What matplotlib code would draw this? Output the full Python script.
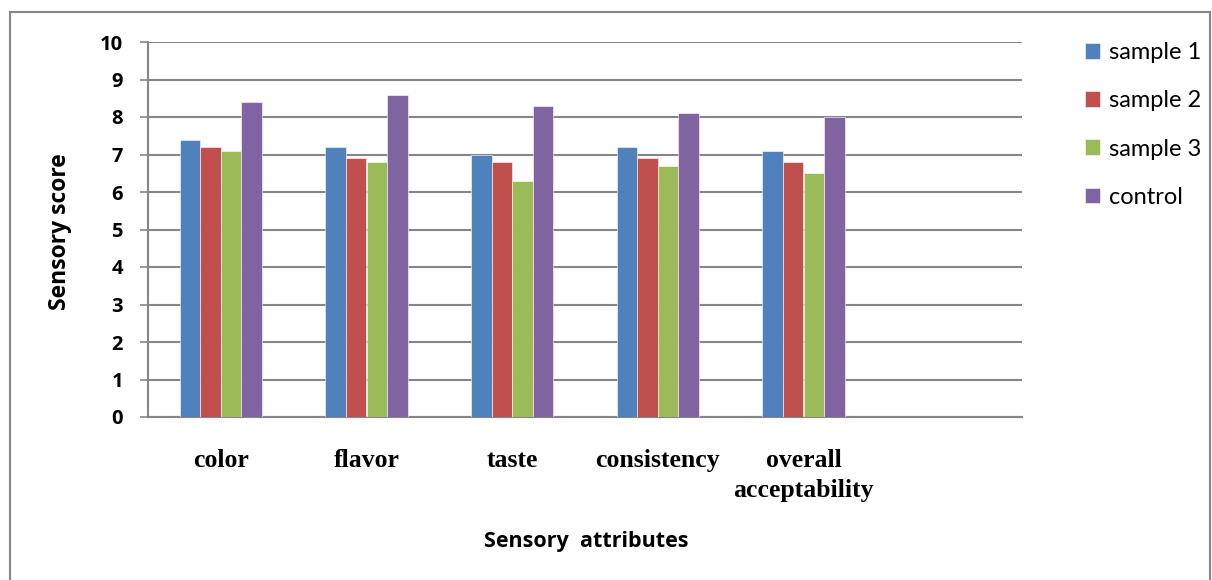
import numpy as np
import matplotlib.pyplot as plt
from matplotlib.patches import Rectangle

# sensory scores per attribute
categories = ['color', 'flavor', 'taste', 'consistency', 'overall\nacceptability']
sample1 = [7.4, 7.2, 7.0, 7.2, 7.1]
sample2 = [7.2, 6.9, 6.8, 6.9, 6.8]
sample3 = [7.1, 6.8, 6.3, 6.7, 6.5]
control = [8.4, 8.6, 8.3, 8.1, 8.0]
series_names = ['sample 1', 'sample 2', 'sample 3', 'control']
colors = ['#4F81BD', '#C0504D', '#9BBB59', '#8064A2']

W, H = 1212, 580
fig = plt.figure(figsize=(W / 100, H / 100), dpi=100)
ax = fig.add_axes([148 / W, 1 - 417 / H, (1022 - 148) / W, (417 - 42) / H])

# outer chart frame
fig.patches.append(Rectangle((10 / W, -0.01), 1200 / W, 1 - 12 / H + 0.01,
                             transform=fig.transFigure, fill=False,
                             edgecolor='#868686', linewidth=1.5))

n_slots = 6  # last category slot is left empty
x = np.arange(len(categories))
bw = 0.1417
for i, (vals, name) in enumerate(zip([sample1, sample2, sample3, control], series_names)):
    ax.bar(x + (i - 1.5) * bw, vals, bw, color=colors[i], label=name,
           edgecolor='white', linewidth=0.4, zorder=3)

ax.set_xlim(-0.5, n_slots - 0.5)
ax.set_ylim(0, 10)
ax.set_yticks(range(0, 11))
ax.yaxis.grid(True, color='#868686', linewidth=1.5, zorder=0)
ax.set_axisbelow(True)
for s in ['top', 'right']:
    ax.spines[s].set_visible(False)
ax.spines['left'].set_color('#868686')
ax.spines['bottom'].set_color('#868686')
ax.spines['left'].set_linewidth(1.5)
ax.spines['bottom'].set_linewidth(1.5)
ax.tick_params(axis='y', length=6, width=1.2, color='#868686', pad=12)
ax.tick_params(axis='x', length=0, pad=23)
for lab in ax.get_yticklabels():
    lab.set_fontfamily('Open Sans')
    lab.set_fontweight('bold')
    lab.set_fontsize(14.5)

ax.set_xticks(x)
ax.set_xticklabels(categories, fontfamily='Liberation Serif', fontweight='bold',
                   fontsize=18.5, linespacing=1.38, va='top')

fig.text(60 / W, 1 - 232 / H, 'Sensory score', rotation=90, ha='center', va='center',
         fontfamily='Open Sans', fontweight='bold', fontsize=16.5)
fig.text(586 / W, 1 - 541 / H, 'Sensory  attributes', ha='center', va='center',
         fontfamily='Open Sans', fontweight='bold', fontsize=15.5)

ax.legend(loc='upper left', bbox_to_anchor=(1064 / W, 1 - 21 / H),
          bbox_transform=fig.transFigure, frameon=False,
          prop={'family': 'Lato', 'size': 17},
          handlelength=0.64, handleheight=0.64, handletextpad=0.35,
          labelspacing=1.15)

fig.savefig('out.png', dpi=100)
